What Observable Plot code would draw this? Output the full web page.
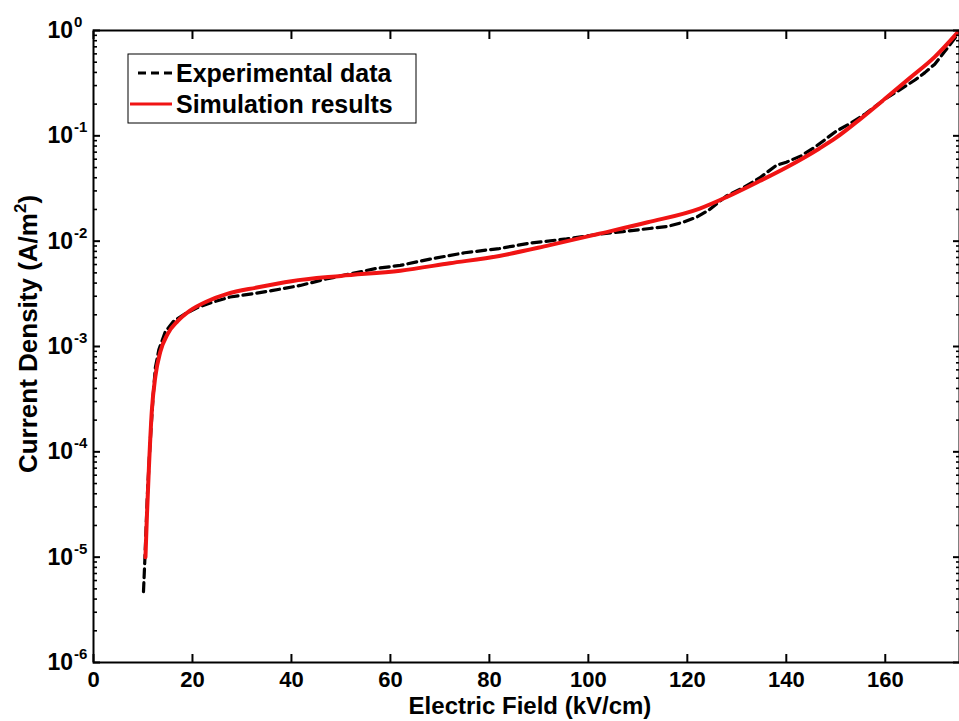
<!DOCTYPE html>
<html>
<head>
<meta charset="utf-8">
<script src="https://cdn.jsdelivr.net/npm/d3@7"></script>
<script src="https://cdn.jsdelivr.net/npm/@observablehq/plot@0.6"></script>
<style>
  body { margin: 0; background: #fff; }
  #chart { width: 959px; height: 721px; }
</style>
</head>
<body>
<div id="chart"></div>
<script>
// Measured J–E characteristic (kV/cm, A/m²)
const expField = [10.1, 10.4, 10.9, 11.4, 12.0, 12.5, 13.2, 14.5, 16.2, 18.5, 21, 24, 27.6, 32, 36, 41.8, 47, 52, 57, 62, 68, 75, 82, 88, 95.6, 102.3, 107, 112.4, 116, 119.1, 122, 124.5, 127.9, 131, 134.6, 138, 140, 143, 146, 150, 153, 156, 160, 163, 166, 168, 170, 172, 174.6];
const expDensity = [4.7e-6, 1.0e-5, 4.0e-5, 1.12e-4, 3.16e-4, 6.3e-4, 9.3e-4, 1.38e-3, 1.74e-3, 2.04e-3, 2.34e-3, 2.63e-3, 2.95e-3, 3.16e-3, 3.39e-3, 3.80e-3, 4.37e-3, 4.90e-3, 5.50e-3, 5.89e-3, 6.76e-3, 7.76e-3, 8.51e-3, 9.55e-3, 1.05e-2, 1.17e-2, 1.23e-2, 1.32e-2, 1.38e-2, 1.51e-2, 1.70e-2, 2.0e-2, 2.69e-2, 3.16e-2, 3.98e-2, 5.25e-2, 5.62e-2, 6.46e-2, 7.94e-2, 0.110, 0.132, 0.162, 0.224, 0.275, 0.339, 0.398, 0.479, 0.631, 0.912];

// Simulated J–E characteristic
const simField = [10.5, 10.8, 11.2, 11.8, 12.5, 13.5, 15, 17, 19.5, 23, 27, 33, 40, 50, 62, 72, 82, 92, 102, 112, 122.5, 128, 134.6, 140, 146.7, 150, 155, 160, 165, 170, 174.6];
const simDensity = [1.0e-5, 2.5e-5, 7.1e-5, 2.5e-4, 5.2e-4, 8.9e-4, 1.32e-3, 1.74e-3, 2.19e-3, 2.69e-3, 3.16e-3, 3.63e-3, 4.17e-3, 4.68e-3, 5.25e-3, 6.17e-3, 7.24e-3, 9.12e-3, 1.17e-2, 1.51e-2, 2.04e-2, 2.63e-2, 3.72e-2, 5.01e-2, 7.59e-2, 0.0955, 0.145, 0.226, 0.355, 0.562, 0.955];

const xTicks = [0, 20, 40, 60, 80, 100, 120, 140, 160];
const yTicks = [1e-6, 1e-5, 1e-4, 1e-3, 1e-2, 1e-1, 1];
const seriesNames = ["Experimental data", "Simulation results"];
const xLabel = "Electric Field (kV/cm)";
const yLabel = "Current Density (A/m";

const experimental = expField.map((x, i) => ({x, y: expDensity[i]}));
const simulation = simField.map((x, i) => ({x, y: simDensity[i]}));
const minorY = yTicks.slice(0, -1).flatMap(t => [2, 3, 4, 5, 6, 7, 8, 9].map(k => k * t));

const font = "'Liberation Sans', Arial, sans-serif";
const RED = "#f01414";

const svg = Plot.plot({
  width: 959,
  height: 721,
  marginTop: 30,
  marginBottom: 59,
  marginLeft: 93,
  marginRight: 0,
  style: {fontFamily: font, fontWeight: "bold", fontSize: "23px", color: "#000", background: "#fff"},
  x: {domain: [0, 175]},
  y: {type: "log", domain: [1e-6, 1]},
  marks: [
    Plot.line(experimental, {x: "x", y: "y", stroke: "#000", strokeWidth: 3.2, strokeDasharray: "9,5"}),
    Plot.line(simulation, {x: "x", y: "y", stroke: RED, strokeWidth: 4, curve: "monotone-x"}),
    // inward-pointing tick marks on all four sides
    Plot.axisX(xTicks, {anchor: "bottom", tickSize: 8, dy: -8, fill: "none", label: null, strokeWidth: 2}),
    Plot.axisX(xTicks, {anchor: "top", tickSize: 8, dy: 8, fill: "none", label: null, strokeWidth: 2}),
    Plot.axisY(yTicks, {anchor: "left", tickSize: 7, dx: 7, fill: "none", label: null, strokeWidth: 2}),
    Plot.axisY(minorY, {anchor: "left", tickSize: 4, dx: 4, fill: "none", label: null, strokeWidth: 1.6}),
    Plot.axisY(yTicks, {anchor: "right", tickSize: 7, dx: -7, fill: "none", label: null, strokeWidth: 2}),
    Plot.axisY(minorY, {anchor: "right", tickSize: 4, dx: -4, fill: "none", label: null, strokeWidth: 1.6}),
    // tick labels
    Plot.axisX(xTicks, {anchor: "bottom", tickSize: 0, tickPadding: 9, label: null, fontSize: 22}),
    Plot.axisY(yTicks, {anchor: "left", tickSize: 0, tickPadding: 0, dx: -46, textAnchor: "start",
      tickFormat: d => String(Math.round(Math.log10(d))), label: null, fontSize: 23}),
    Plot.frame({stroke: "#000", strokeWidth: 2})
  ]
});

document.getElementById("chart").appendChild(svg);
const s = d3.select(svg);

// power-of-ten labels: "10" with a raised exponent
s.selectAll('g[aria-label="y-axis tick label"] text').each(function() {
  const t = d3.select(this);
  const e = t.text();
  t.text("10");
  t.append("tspan").attr("dy", "-11").attr("dx", "1").attr("font-size", "15px").text(e);
});

// axis titles
s.append("text")
  .attr("x", 530).attr("y", 714)
  .attr("text-anchor", "middle")
  .attr("font-size", "24px").attr("font-weight", "bold").attr("font-family", font)
  .text(xLabel);

const yl = s.append("text")
  .attr("transform", "translate(37,334) rotate(-90)")
  .attr("text-anchor", "middle")
  .attr("font-size", "26px").attr("font-weight", "bold").attr("font-family", font);
yl.append("tspan").text(yLabel);
yl.append("tspan").attr("dy", "-11").attr("font-size", "17px").text("2");
yl.append("tspan").attr("dy", "11").text(")");

// legend box
const lg = s.append("g")
  .attr("font-family", font).attr("font-weight", "bold").attr("font-size", "25px")
  .attr("text-anchor", "start");
lg.append("rect").attr("x", 128).attr("y", 54).attr("width", 288).attr("height", 69)
  .attr("fill", "#fff").attr("stroke", "#000").attr("stroke-width", 1);
lg.append("line").attr("x1", 138).attr("x2", 173).attr("y1", 73).attr("y2", 73)
  .attr("stroke", "#000").attr("stroke-width", 3).attr("stroke-dasharray", "8,5");
lg.append("line").attr("x1", 130).attr("x2", 172).attr("y1", 104).attr("y2", 104)
  .attr("stroke", RED).attr("stroke-width", 3);
lg.append("text").attr("x", 176).attr("y", 82).attr("text-anchor", "start").text(seriesNames[0]);
lg.append("text").attr("x", 176).attr("y", 113).attr("text-anchor", "start").text(seriesNames[1]);
</script>
</body>
</html>
